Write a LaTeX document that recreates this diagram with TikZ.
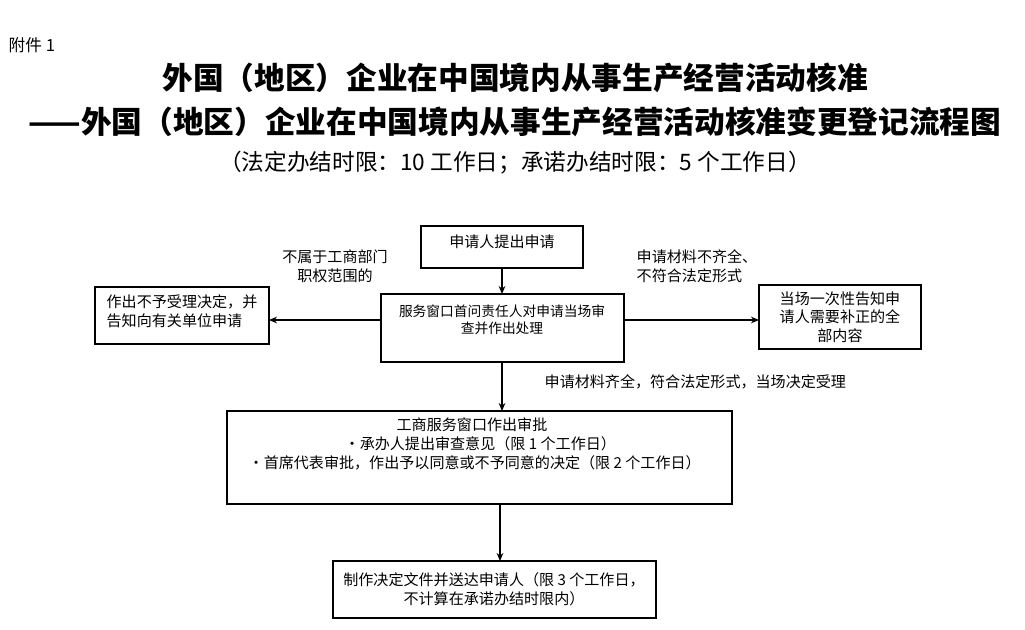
\documentclass[tikz,border=0pt]{standalone}
\usepackage{fontspec}
\setmainfont{Noto Sans CJK SC}
\usetikzlibrary{arrows.meta}
\begin{document}
\begin{tikzpicture}[x=0.75pt,y=-0.75pt,
  box/.style={draw,line width=0.8pt,inner sep=0pt},
  txt/.style={font=\fontsize{11.3}{14}\selectfont,align=center},
  arr/.style={-{Stealth[length=6pt,width=5pt]},line width=0.8pt}]
\useasboundingbox (0,0) rectangle (1025,629);
\node[anchor=west,font=\fontsize{12.5}{14}\selectfont] (fj) at (4,45) {附件 1};
\node[font=\fontsize{23}{26}\selectfont\bfseries] (t1) at (515,78) {外国（地区）企业在中国境内从事生产经营活动核准};
\node[font=\fontsize{23}{26}\selectfont\bfseries] (t2) at (515,122) {——外国（地区）企业在中国境内从事生产经营活动核准变更登记流程图};
\node[font=\fontsize{17}{19}\selectfont] (t3) at (515,163) {（法定办结时限：10 工作日；承诺办结时限：5 个工作日）};

\draw[box] (421,226) rectangle (583,268); \node[txt] (a) at (502,242) {申请人提出申请};
\coordinate (aB) at (502,268);
\draw[box] (381,294) rectangle (624,362); \node[txt,font=\fontsize{10.3}{13}\selectfont] (b) at (502,320) {服务窗口首问责任人对申请当场审\\查并作出处理};
\coordinate (bT) at (502,294); \coordinate (bL) at (381,320); \coordinate (bR) at (624,320); \coordinate (bB) at (502,362);
\draw[box] (95,287) rectangle (269,344); \node[txt,align=left] (l) at (182,311) {作出不予受理决定，并\\告知向有关单位申请};
\coordinate (lR) at (269,320);
\draw[box] (759,285) rectangle (921,349); \node[txt] (r) at (840,317) {当场一次性告知申\\请人需要补正的全\\部内容};
\coordinate (rL) at (759,320);
\draw[box] (227,411) rectangle (732,504);
\node[txt] (c1) at (472,425) {工商服务窗口作出审批};
\node[txt,anchor=west] (c2) at (340,444) {·承办人提出审查意见（限 1 个工作日）};
\node[txt,anchor=west] (c3) at (244,463) {·首席代表审批，作出予以同意或不予同意的决定（限 2 个工作日）};
\coordinate (cT) at (502,411); \coordinate (cB) at (500,504);
\draw[box] (333,561) rectangle (656,618);
\node[txt,align=center] (d) at (494,589) {制作决定文件并送达申请人（限 3 个工作日，\\不计算在承诺办结时限内）};
\coordinate (dT) at (500,561);

\draw[arr] (aB) -- (bT);
\draw[arr] (bL) -- (lR);
\draw[arr] (bR) -- (rL);
\draw[arr] (bB) -- (cT);
\draw[arr] (cB) -- (dT);
\node[txt] (n1) at (335,266) {不属于工商部门\\职权范围的};
\node[txt,align=left] (n2) at (697,266) {申请材料不齐全、\\不符合法定形式};
\node[txt,anchor=west] (n3) at (540,382) {申请材料齐全，符合法定形式，当场决定受理};
\end{tikzpicture}
\end{document}
